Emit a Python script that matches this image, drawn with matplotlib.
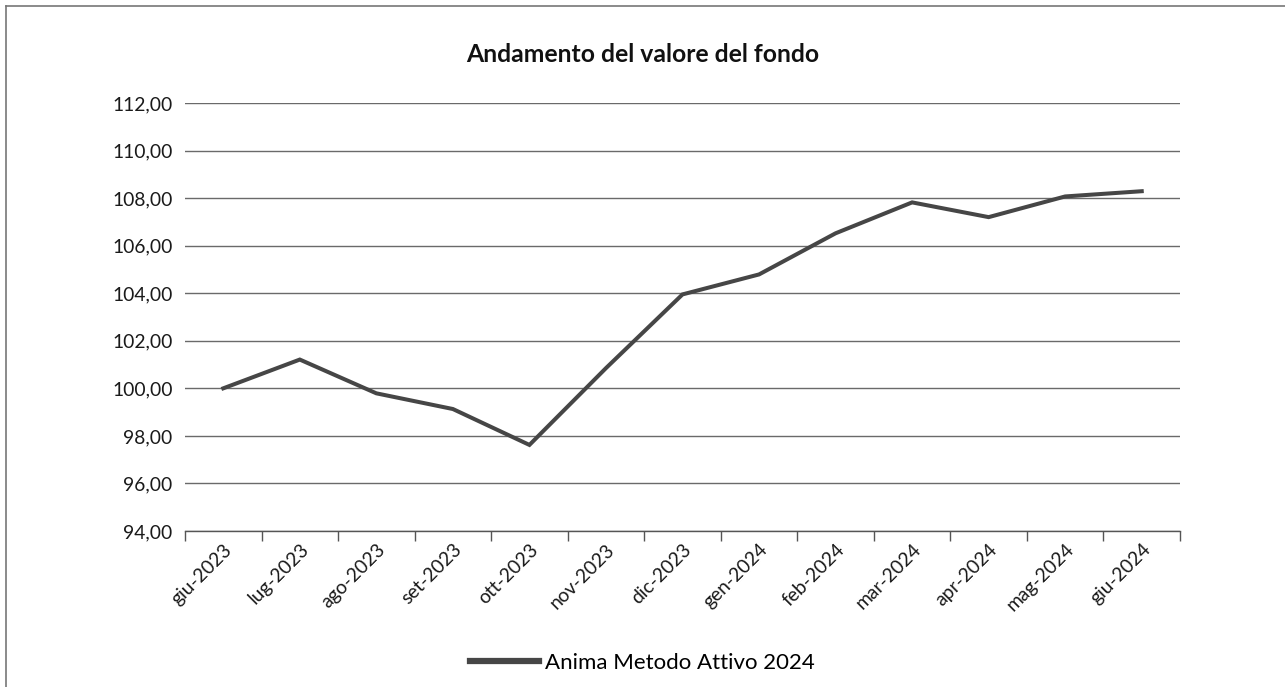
import matplotlib.pyplot as plt
from matplotlib.lines import Line2D
from matplotlib.ticker import FixedLocator, FuncFormatter

# dati
mesi = ['giu-2023', 'lug-2023', 'ago-2023', 'set-2023', 'ott-2023', 'nov-2023',
        'dic-2023', 'gen-2024', 'feb-2024', 'mar-2024', 'apr-2024', 'mag-2024', 'giu-2024']
valori = [100.00, 101.21, 99.79, 99.13, 97.62, 100.85,
          103.95, 104.79, 106.52, 107.82, 107.20, 108.07, 108.29]
y_ticks = [94, 96, 98, 100, 102, 104, 106, 108, 110, 112]
nome_serie = 'Anima Metodo Attivo 2024'
titolo = 'Andamento del valore del fondo'

plt.rcParams['font.family'] = ['Lato', 'DejaVu Sans']

W, H = 1285, 687
fig = plt.figure(figsize=(W / 100, H / 100), dpi=100)
ax = fig.add_axes([185 / W, 1 - 531 / H, (1180 - 185) / W, (531 - 103) / H])

x = list(range(len(mesi)))
ax.plot(x, valori, color='#464646', lw=2.9, solid_joinstyle='miter', zorder=3)

ax.set_xlim(-0.5, len(mesi) - 0.5)
ax.set_ylim(94, 112)
ax.set_yticks(y_ticks)
ax.yaxis.set_major_formatter(FuncFormatter(lambda v, p: f'{v:.2f}'.replace('.', ',')))
ax.grid(axis='y', color='#6a6a6a', lw=1.0)
ax.tick_params(axis='y', length=0, pad=9, labelsize=13.9, colors='#1a1a1a')

# tacche ai bordi delle categorie, etichette al centro
ax.xaxis.set_major_locator(FixedLocator([i - 0.5 for i in range(len(mesi) + 1)]))
ax.xaxis.set_minor_locator(FixedLocator(x))
ax.set_xticklabels([])
ax.set_xticks(x, mesi, minor=True)
ax.tick_params(axis='x', which='major', length=7, width=1, color='#555555')
ax.tick_params(axis='x', which='minor', length=0, pad=7, labelsize=13.9, colors='#1a1a1a')
for lab in ax.get_xticklabels(minor=True):
    lab.set_rotation(45)
    lab.set_ha('right')
    lab.set_rotation_mode('anchor')

for s in ['top', 'right', 'left']:
    ax.spines[s].set_visible(False)
ax.spines['bottom'].set_color('#555555')
ax.spines['bottom'].set_linewidth(1.0)

fig.text(0.5, 1 - 55 / H, titolo, ha='center', va='center',
         fontsize=17.8, fontweight='bold', color='#111111')

handle = Line2D([], [], color='#464646', lw=4.5)
fig.legend([handle], [nome_serie], loc='center', bbox_to_anchor=(0.5, 1 - 663 / H),
           frameon=False, fontsize=16, handlelength=3.1, handletextpad=0.27)

# cornice esterna (solo bordi sinistro e superiore visibili)
fig.add_artist(Line2D([5.5 / W, 5.5 / W], [0, 1 - 5.5 / H], color='#777777', lw=1.2))
fig.add_artist(Line2D([5.5 / W, 1], [1 - 5.5 / H, 1 - 5.5 / H], color='#777777', lw=1.2))

fig.savefig('out.png', dpi=100, facecolor='white')
